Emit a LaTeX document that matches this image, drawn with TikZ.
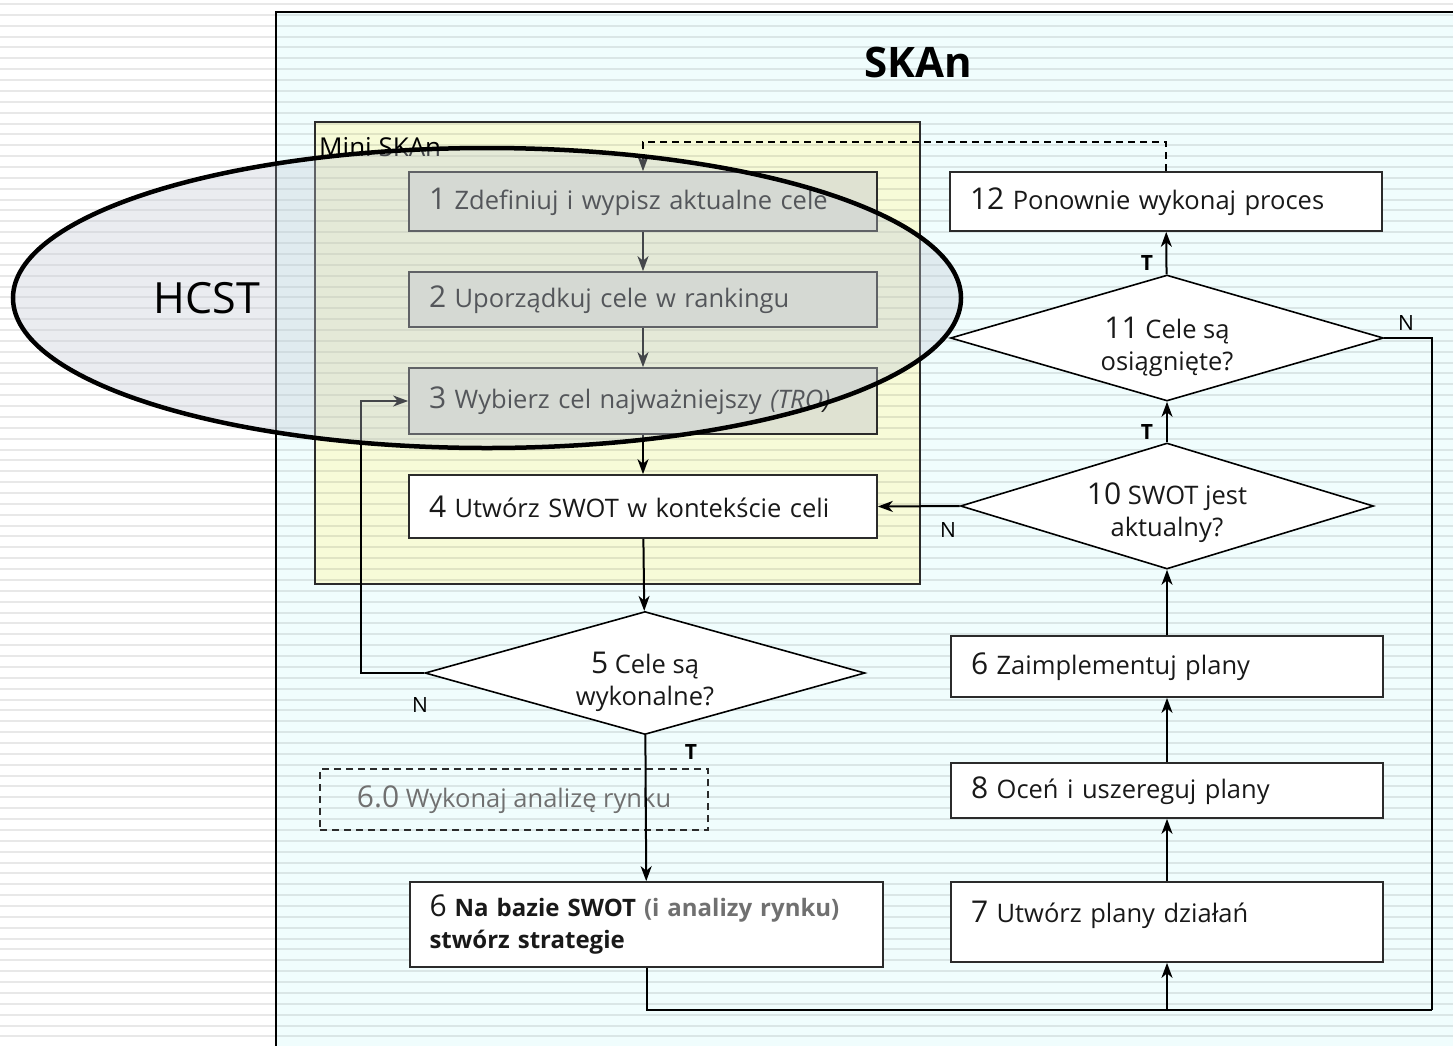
\documentclass[tikz,border=0pt]{standalone}
\usepackage{fontspec}
\setmainfont{Open Sans}
\usepackage{xcolor}
\usepackage{tikz}
\usetikzlibrary{shapes,arrows,arrows.meta}
\definecolor{framecyan}{HTML}{F0FDFD}
\definecolor{miniyellow}{HTML}{F7FBD8}
\definecolor{boxgray}{HTML}{DFE2D2}
\definecolor{hcstblue}{HTML}{C3CAD6}
\definecolor{edgegray}{HTML}{2B2B2B}
\definecolor{textgray}{HTML}{707070}
\newcommand{\nr}[1]{{\fontsize{30}{31}\selectfont #1}}
\newcommand{\txt}{\fontsize{25.5}{32}\selectfont}
\tikzstyle{block} = [rectangle, draw=edgegray, line width=1.7pt, fill=white, text width=428pt, inner xsep=20pt, inner ysep=4pt, align=left, font=\txt, text=black!90]
\tikzstyle{rblock} = [block, text width=392pt]
\tikzstyle{goal} = [block, fill=boxgray]
\tikzstyle{decision} = [diamond, draw=black, line width=1.6pt, fill=white, inner sep=0pt]
\tikzstyle{dtext} = [align=center, font=\txt, inner sep=0pt, text=black!90]
\tikzstyle{tag} = [font=\fontsize{21}{21}\selectfont, inner sep=0pt]
\tikzstyle{line} = [draw, line width=2pt, -{Stealth[length=15pt,width=11pt,inset=4.5pt]}]
\tikzstyle{stripe} = [line width=2pt, black, opacity=0.09]

\begin{document}
\begin{tikzpicture}[x=1pt, y=-1pt, node distance=100pt]
        \clip (0,0) rectangle (1453,1045);
        % Background and frames
        \fill [white] (0,0) rectangle (1453,1045);
        \fill [framecyan] (276,12) rectangle (1470,1060);
        \fill [miniyellow] (315,122) rectangle (920,584);
        \foreach \k in {0,...,96}
            \draw [stripe] (0,{4+10.867*\k}) -- (1453,{4+10.867*\k});
        \draw [line width=2.4pt] (276,1060) -- (276,12) -- (1470,12);
        \draw [edgegray, line width=1.5pt] (315,122) rectangle (920,584);

        % Place nodes
        \node [font=\fontsize{42}{42}\selectfont\bfseries] (title) at (918,62) {SKAn};
        \node [font=\fontsize{26}{26}\selectfont, anchor=west, inner sep=2pt] (minilbl) at (317,147) {Mini SKAn};

        \node [goal, minimum height=59pt] (b1) at (643,201.5) {\nr{1} Zdefiniuj i wypisz aktualne cele};
        \node [goal, minimum height=55pt, node distance=98pt, below of=b1] (b2) {\nr{2} Uporządkuj cele w rankingu};
        \node [goal, minimum height=66pt, node distance=101.5pt, below of=b2] (b3) {\nr{3} Wybierz cel najważniejszy \textit{(TRO)}};
        \node [block, minimum height=63pt, node distance=105.5pt, below of=b3] (b4) {\nr{4} Utwórz SWOT w kontekście celi};
        \node [decision, minimum width=440pt, minimum height=123pt] (d5) at (645,673) {};
        \node [dtext] (t5) at ([yshift=-9pt]d5.center) {\nr{5} Cele są\\wykonalne?};
        \node [rectangle, draw=edgegray, line width=1.5pt, dash pattern=on 7pt off 5pt, minimum width=388pt, minimum height=61pt, font=\txt, text=textgray] (b60) at (514,799.5) {\nr{6.0} Wykonaj analizę rynku};
        \node [block, text width=434pt, inner xsep=19.5pt, minimum height=85pt, font=\fontsize{24}{32}\selectfont] (b6) at (646.5,924.5) {\nr{6} \textbf{Na bazie SWOT} \textcolor{textgray}{\textbf{(i analizy rynku)}}\\\textbf{stwórz strategie}};

        \node [rblock, minimum height=59pt] (b12) at (1166,201.5) {\nr{12} Ponownie wykonaj proces};
        \node [decision, minimum width=433pt, minimum height=126pt] (d11) at (1167,338) {};
        \node [dtext] (t11) at ([yshift=-9pt]d11.center) {\nr{11} Cele są\\osiągnięte?};
        \node [decision, minimum width=413pt, minimum height=126pt] (d10) at (1167,506) {};
        \node [dtext] (t10) at ([yshift=-7pt]d10.center) {\nr{10} SWOT jest\\aktualny?};
        \node [rblock, minimum height=61pt] (b9) at (1167,666.5) {\nr{6} Zaimplementuj plany};
        \node [rblock, minimum height=55pt] (b8) at (1167,790.5) {\nr{8} Oceń i uszereguj plany};
        \node [rblock, minimum height=80pt, text depth=20pt] (b7) at (1167,922) {\nr{7} Utwórz plany działań};

        \coordinate (loop) at (361,673);
        \coordinate (jn) at (1167,1010);
        \coordinate (ret) at (1432,1010);

        % Draw edges
        \path [line, dash pattern=on 7pt off 5pt] (b12.north) |- ([yshift=29pt]b1.north) -- (b1.north);
        \path [line] (b1) -- (b2);
        \path [line] (b2) -- (b3);
        \path [line] (b3) -- (b4);
        \path [line] (b4) -- (d5);
        \path [line] (d5.west) -- (loop) |- (b3);
        \path [line] (d5) -- (b6);
        \draw [line width=2pt] (b6.south) |- (ret);
        \draw [line width=2pt] (d11.east) -| (ret);
        \path [line] (jn) -- (b7);
        \path [line] (b7) -- (b8);
        \path [line] (b8) -- (b9);
        \path [line] (b9) -- (d10);
        \path [line] (d10) -- (d11);
        \path [line] (d11) -- (b12);
        \path [line] (d10.west) -- (b4.east);

        % Labels
        \node [tag, font=\fontsize{21}{21}\selectfont\bfseries] (ty12) at (1147,263) {T};
        \node [tag, font=\fontsize{21}{21}\selectfont\bfseries] (ty11) at (1147,432) {T};
        \node [tag] (nn11) at (1406,323) {N};
        \node [tag] (nn10) at (948,530) {N};
        \node [tag] (nn5) at (420,705) {N};
        \node [tag, font=\fontsize{21}{21}\selectfont\bfseries] (ty5) at (691,752) {T};

        % HCST part
        \node [ellipse, draw, line width=4.5pt, fill=hcstblue, fill opacity=0.35, minimum width=948pt, minimum height=300pt, inner sep=0pt] (oval) at (487,298) {};
        \node [font=\fontsize{43}{43}\selectfont] (hcst) at (207,298) {HCST};
\end{tikzpicture}
\end{document}
